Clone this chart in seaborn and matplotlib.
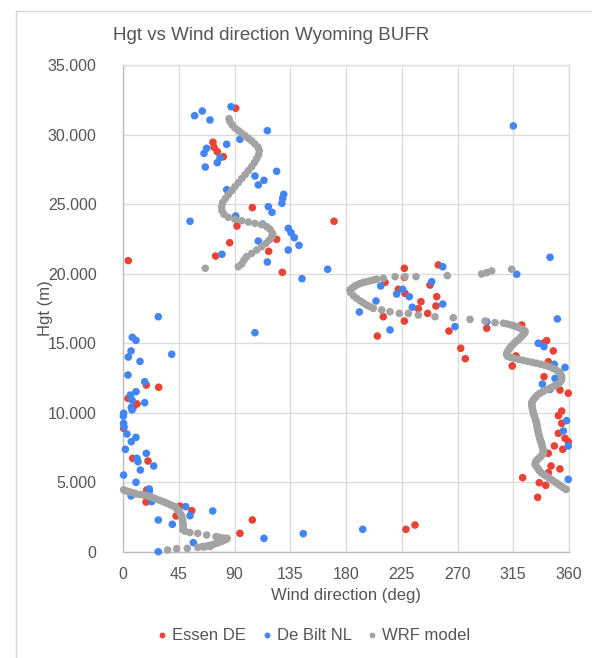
import matplotlib
matplotlib.use("Agg")
import matplotlib.pyplot as plt
from matplotlib.lines import Line2D
from matplotlib.ticker import FuncFormatter
import seaborn as sns
import pandas as pd

# ---------------- data ----------------
essen_dir = [91.0, 72.6, 73.5, 76.1, 81.0, 104.4, 170.3, 92.0, 124.0, 86.1, 117.6, 74.8, 4.3, 128.6,
             211.5, 227.1, 227.1, 222.2, 227.6, 210.1, 227.1, 205.3, 240.5, 238.4, 245.9, 253.2, 252.6, 247.8, 254.5, 263.1,
             293.6, 321.8, 272.6, 276.3, 342.0, 339.3, 347.3, 317.2, 314.2, 343.3, 339.8, 352.7, 359.4, 354.1, 351.4,
             354.1, 351.4, 356.8, 359.4, 354.9, 348.2, 343.3, 345.5, 352.7, 343.3, 322.6, 336.0, 341.2, 334.7,
             104.4, 228.4, 235.7,
             18.8, 28.8, 4.0, 11.3, 8.3, 0.5, 7.8, 20.2, 19.1, 18.6, 46.0, 55.5, 42.8, 94.4, 83.7, 70.2]
essen_hgt = [31890, 29450, 29090, 28770, 28410, 24750, 23770, 23430, 22470, 22230, 21610, 21270, 20940, 20100,
             19380, 20390, 19740, 18880, 18590, 16910, 16600, 15520, 17990, 17490, 17150, 18350, 17680, 19190, 20630, 15880,
             16080, 16310, 14640, 13890, 15190, 15000, 14450, 14090, 13370, 13680, 12600, 11640, 11410, 10130, 9800,
             9250, 8530, 8170, 7930, 7380, 7620, 7090, 6180, 5970, 5700, 5340, 4980, 4790, 3930,
             2300, 1630, 1940,
             12000, 11840, 11040, 10640, 10400, 8890, 6730, 6540, 4460, 3590, 3300, 2970, 2590, 1340, 980, 430]

debilt_dir = [87.2, 64.0, 57.8, 70.2, 116.5, 94.4, 83.7, 67.5, 65.4, 78.3, 76.1, 66.4, 124.0, 106.5, 113.8,
              109.2, 83.7, 129.7, 128.9, 128.3, 117.3, 120.3, 91.0, 54.1, 112.4, 133.4, 135.6, 138.3, 109.2,
              142.1, 133.4, 79.9, 116.5, 165.2, 144.5, 315.1,
              106.5, 190.8, 204.2, 208.0, 215.5, 220.9, 225.7, 231.1, 233.5, 249.2, 258.1, 258.1, 344.7, 317.8,
              268.0, 293.6, 350.6, 335.2, 339.8, 348.1, 356.8, 338.5, 344.7, 348.7, 358.1, 355.4, 359.4, 359.4,
              113.8, 145.5, 193.5,
              28.5, 7.5, 10.5, 6.5, 39.3, 4.3, 13.7, 4.0, 17.5, 10.5, 5.9, 7.3, 6.7, 7.3, 17.5, 0.5, 0.3, 0.5,
              0.8, 3.2, 10.5, 6.7, 1.9, 11.3, 12.1, 18.8, 24.8, 14.0, 0.5, 10.5, 21.2, 21.2, 6.5, 23.1, 50.6,
              54.1, 72.4, 28.5, 39.8, 56.8, 65.6, 28.5]
debilt_hgt = [32004, 31694, 31357, 31048, 30280, 29660, 29300, 29010, 28650, 28340, 27980, 27670, 27360, 27020, 26710,
              26380, 26040, 25710, 25420, 25060, 24820, 24410, 24150, 23770, 23570, 23260, 22950, 22590, 22350,
              22040, 21700, 21400, 20840, 20320, 19640, 30620,
              15760, 17250, 18040, 19120, 15960, 18540, 18880, 18350, 17590, 19430, 20500, 17820, 21180, 19960,
              16200, 16550, 16750, 15000, 14760, 13490, 13270, 12070, 11690, 12480, 9440, 8700, 7620, 5220,
              980, 1320, 1630,
              16910, 15430, 15210, 14450, 14210, 14010, 13700, 12720, 12240, 11520, 11280, 10920, 10400, 10210, 10730, 9970, 9770, 9250,
              9010, 8480, 8240, 7930, 7380, 6730, 6490, 7090, 6180, 5890, 5530, 5010, 4530, 4340, 4030, 3620, 3260,
              2610, 2950, 2300, 1990, 670, 380, 20]

wrf_dir = [36.0, 43.3, 51.9, 60.3,
           64.0, 67.0, 70.0, 73.0, 76.0, 79.0, 81.0, 83.0, 84.0,
           81.0, 78.0, 75.1, 67.5, 60.3, 54.0, 50.0, 48.5, 48.5, 48.5, 48.5, 48.0, 48.0, 47.5, 47.0, 46.0,
           45.0, 44.0, 43.5, 42.0, 40.0, 38.0, 35.5, 33.0, 30.0, 27.0, 24.5, 22.0, 19.5, 17.0, 14.0, 11.0,
           8.5, 6.0, 4.0, 2.0, 0.5,
           357.6, 355.5, 353.5, 351.5, 349.5, 347.4, 345.5, 343.5, 341.5, 339.5, 337.5, 336.0, 335.0, 333.5,
           332.6, 333.0, 334.0, 335.5, 337.0, 338.5, 339.3, 339.3, 339.0, 338.5, 338.0, 337.8, 337.0, 336.5,
           336.0, 335.5, 335.2, 334.8, 334.5, 334.2, 333.9, 333.5, 333.0, 332.5, 332.0, 331.3, 331.0, 330.5,
           330.2, 330.0, 329.9, 330.5, 331.5, 333.0, 334.5, 336.5, 339.0, 342.0, 345.0, 348.0, 350.5, 352.5,
           353.8, 354.1, 354.0, 353.3, 352.5, 350.0, 347.0, 344.0, 340.5, 337.0, 333.5, 330.0, 326.5, 323.0,
           319.5, 316.0, 313.0, 310.5, 309.7, 309.8, 310.5, 311.5, 312.5, 314.0, 315.5, 317.0, 318.8, 320.4,
           321.8, 323.0, 324.3, 324.5, 322.5, 320.4, 318.0, 315.5, 313.0, 310.0, 307.0,
           300.3, 292.2, 280.1, 266.6, 251.8, 238.4, 230.3, 223.0, 215.5, 208.8,
           202.0, 199.0, 196.7, 194.0, 191.5, 188.6, 186.0, 184.0, 183.2, 185.0, 186.8, 188.6, 191.0, 193.8,
           196.7, 199.5, 202.2, 204.8,
           210.1, 219.6, 227.6, 236.5, 261.8, 289.5, 293.6, 297.6, 313.7,
           66.4,
           93.1, 95.8, 97.7, 99.8, 103.9, 107.9, 111.9, 115.4, 118.1, 120.0, 120.8, 118.7, 116.0, 111.9,
           106.5, 101.2, 95.8, 90.4, 85.0, 81.5, 79.9, 79.6, 80.4, 82.6, 85.0, 87.7, 90.4, 93.1, 95.8, 98.5,
           101.2, 103.9, 106.0, 107.9, 109.5, 110.0, 109.0, 106.5, 103.9, 101.2, 98.5, 95.8, 93.1, 90.4,
           88.2, 86.4, 85.6]
wrf_hgt = [140, 240, 260, 340,
           380, 420, 480, 550, 640, 740, 820, 900, 960,
           1000, 1050, 1100, 1220, 1340, 1400, 1500, 1600, 1750, 1900, 2050, 2200, 2350, 2500, 2650, 2800,
           2950, 3020, 3100, 3250, 3330, 3400, 3500, 3600, 3700, 3800, 3890, 3980, 4030, 4080, 4130, 4170,
           4240, 4300, 4350, 4400, 4470,
           4500, 4620, 4740, 4860, 4980, 5100, 5220, 5340, 5460, 5580, 5700, 5850, 6000, 6150,
           6300, 6450, 6600, 6730, 6850, 6980, 7120, 7250, 7400, 7550, 7700, 7850, 8000, 8150,
           8300, 8450, 8600, 8750, 8900, 9050, 9200, 9350, 9500, 9650, 9800, 9970, 10120, 10270,
           10420, 10570, 10700, 10850, 10980, 11120, 11280, 11400, 11530, 11660, 11800, 11930, 12050, 12180,
           12330, 12480, 12620, 12780, 12920, 13060, 13200, 13320, 13420, 13500, 13570, 13640, 13700, 13770,
           13840, 13910, 13980, 14060, 14180, 14300, 14430, 14560, 14700, 14840, 14980, 15110, 15240, 15370,
           15500, 15630, 15760, 15880, 15990, 16080, 16180, 16260, 16330, 16390, 16440,
           16480, 16600, 16720, 16840, 16910, 17030, 17150, 17150, 17270, 17390,
           17510, 17650, 17750, 17900, 18050, 18230, 18420, 18620, 18830, 18970, 19080, 19190, 19280, 19360,
           19430, 19490, 19550, 19600,
           19670, 19790, 19790, 19790, 19860, 19980, 20080, 20200, 20320,
           20390,
           20505, 20700, 20986, 21225, 21465, 21705, 21945, 22185, 22423, 22663, 22903, 23190, 23381, 23525,
           23620, 23717, 23812, 23908, 24052, 24268, 24530, 24820, 25107, 25395, 25682, 25970, 26257, 26545, 26832, 27120,
           27408, 27695, 27983, 28270, 28557, 28845, 29085, 29323, 29539, 29731, 29921, 30089, 30281, 30473,
           30689, 30928, 31143]

series_names = ["Essen DE", "De Bilt NL", "WRF model"]
series_colors = ["#EA4335", "#4285F4", "#A3A3A3"]
x_ticks = [0, 45, 90, 135, 180, 225, 270, 315, 360]
y_ticks = [0, 5000, 10000, 15000, 20000, 25000, 30000, 35000]

# ---------------- figure ----------------
sns.set_theme(style="white")
plt.rcParams["font.family"] = ["Liberation Sans", "DejaVu Sans"]

df = pd.concat([
    pd.DataFrame({"dir": essen_dir, "hgt": essen_hgt, "series": series_names[0]}),
    pd.DataFrame({"dir": debilt_dir, "hgt": debilt_hgt, "series": series_names[1]}),
    pd.DataFrame({"dir": wrf_dir, "hgt": wrf_hgt, "series": series_names[2]}),
], ignore_index=True)

fig = plt.figure(figsize=(5.92, 6.58), dpi=100)
ax = fig.add_axes([123 / 592, 1 - 552 / 658, 446 / 592, 487 / 658])

sns.scatterplot(data=df, x="dir", y="hgt", hue="series", hue_order=series_names,
                palette=dict(zip(series_names, series_colors)), s=30, linewidth=0,
                legend=False, ax=ax, clip_on=False, zorder=3)

ax.set_xlim(0, 360)
ax.set_ylim(0, 35000)
ax.set_xticks(x_ticks)
ax.set_yticks(y_ticks)
ax.yaxis.set_major_formatter(FuncFormatter(lambda v, p: f"{int(v):,}".replace(",", ".")))
ax.grid(True, color="#DCDCDC", linewidth=1.0, zorder=0)
ax.set_axisbelow(True)
for side in ["top", "right"]:
    ax.spines[side].set_color("#DCDCDC")
    ax.spines[side].set_linewidth(1.0)
for side in ["left", "bottom"]:
    ax.spines[side].set_color("#BDBDBD")
    ax.spines[side].set_linewidth(1.0)

text_color = "#555555"
ax.tick_params(axis="both", length=0, labelsize=11.5, colors=text_color)
ax.tick_params(axis="y", pad=19)
ax.tick_params(axis="x", pad=11)

ax.set_xlabel("Wind direction (deg)", fontsize=12, color=text_color)
ax.set_ylabel("Hgt (m)", fontsize=12, color=text_color)
ax.xaxis.set_label_coords(0.5, -0.074)
ax.yaxis.set_label_coords(-0.158, 0.5)

fig.text(271 / 592, 1 - 36 / 658, "Hgt vs Wind direction Wyoming BUFR",
         ha="center", va="center", fontsize=13.5, color=text_color)

handles = [Line2D([0], [0], marker="o", linestyle="", markersize=4.2,
                  markerfacecolor=c, markeredgewidth=0, label=n)
           for n, c in zip(series_names, series_colors)]
leg = fig.legend(handles=handles, loc="center", bbox_to_anchor=(312 / 592, 1 - 636 / 658),
                 ncol=3, frameon=False, fontsize=12, handletextpad=0.1,
                 columnspacing=0.75, handlelength=1.0)
for t in leg.get_texts():
    t.set_color(text_color)

# outer chart border (top and left edges visible in the reference)
fig.add_artist(Line2D([15.5 / 592, 15.5 / 592], [0, 1 - 10.5 / 658],
                      transform=fig.transFigure, color="#D6D6D6", linewidth=1.0))
fig.add_artist(Line2D([15.5 / 592, 1], [1 - 10.5 / 658, 1 - 10.5 / 658],
                      transform=fig.transFigure, color="#D6D6D6", linewidth=1.0))

fig.savefig("out.png", dpi=100, facecolor="white")
